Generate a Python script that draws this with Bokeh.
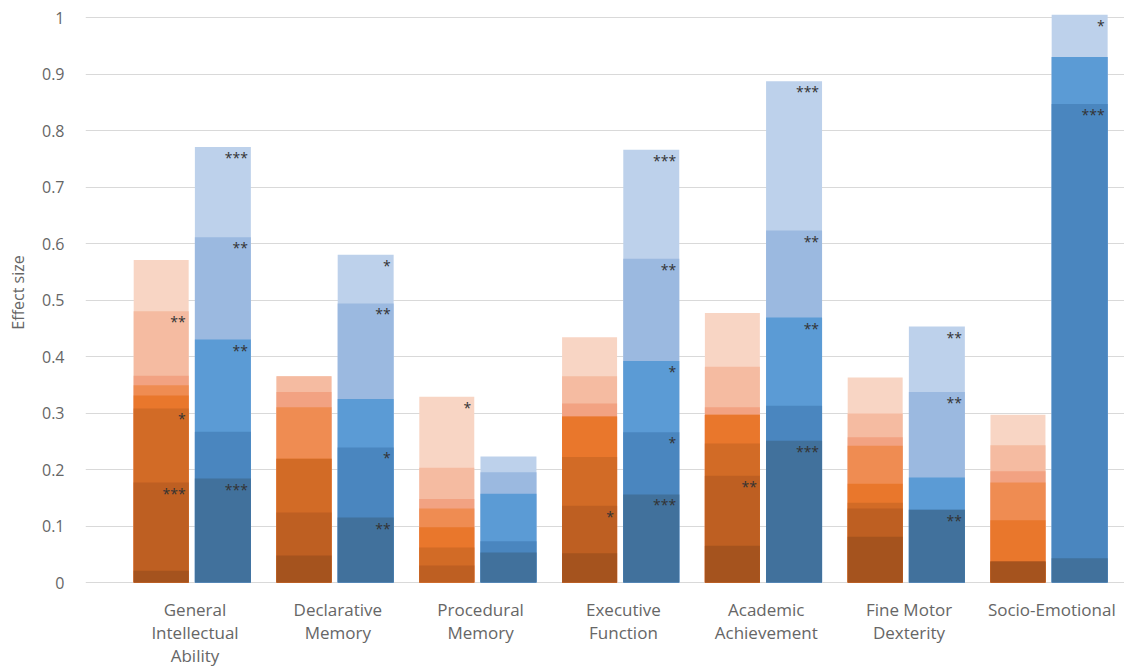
from bokeh.plotting import figure
from bokeh.models import FixedTicker, CustomJSTickFormatter, Range1d, ColumnDataSource
from bokeh.core.properties import value
from bokeh.embed import file_html
from bokeh.resources import INLINE

# ---------------- data ----------------
categories = ["General\nIntellectual\nAbility", "Declarative\nMemory", "Procedural\nMemory",
              "Executive\nFunction", "Academic\nAchievement", "Fine Motor\nDexterity", "Socio-Emotional"]

# orange group: overlapping levels, lightest (tallest) first
orange_l1 = [0.571, 0.365, 0.329, 0.434, 0.477, 0.363, 0.297]
orange_l2 = [0.480, 0.365, 0.203, 0.365, 0.382, 0.299, 0.243]
orange_l3 = [0.366, 0.337, 0.148, 0.317, 0.310, 0.257, 0.197]
orange_l4 = [0.349, 0.310, 0.131, 0.294, 0.297, 0.242, 0.177]
orange_l5 = [0.331, 0.219, 0.098, 0.294, 0.297, 0.175, 0.110]
orange_l6 = [0.308, 0.219, 0.062, 0.222, 0.246, 0.141, 0.037]
orange_l7 = [0.177, 0.124, 0.030, 0.136, 0.189, 0.131, 0.037]
orange_l8 = [0.021, 0.048, 0.000, 0.052, 0.065, 0.081, 0.037]

orange_s1 = ["", "", "*", "", "", "", ""]
orange_s2 = ["**", "", "", "", "", "", ""]
orange_s3 = ["", "", "", "", "", "", ""]
orange_s4 = ["", "", "", "", "", "", ""]
orange_s5 = ["", "", "", "", "", "", ""]
orange_s6 = ["*", "", "", "", "", "", ""]
orange_s7 = ["***", "", "", "*", "**", "", ""]
orange_s8 = ["", "", "", "", "", "", ""]

# blue group
blue_l1 = [0.771, 0.580, 0.223, 0.766, 0.887, 0.453, 1.005]
blue_l2 = [0.611, 0.494, 0.195, 0.573, 0.623, 0.337, 0.930]
blue_l3 = [0.430, 0.325, 0.157, 0.392, 0.469, 0.186, 0.930]
blue_l4 = [0.267, 0.239, 0.073, 0.266, 0.313, 0.129, 0.847]
blue_l5 = [0.184, 0.115, 0.053, 0.156, 0.251, 0.129, 0.043]

blue_s1 = ["***", "*", "", "***", "***", "**", "*"]
blue_s2 = ["**", "**", "", "**", "**", "**", ""]
blue_s3 = ["**", "", "", "*", "**", "", ""]
blue_s4 = ["", "*", "", "*", "", "", "***"]
blue_s5 = ["***", "**", "", "***", "***", "**", ""]

y_ticks = [0, 0.1, 0.2, 0.3, 0.4, 0.5, 0.6, 0.7, 0.8, 0.9, 1.0]

# ---------------- styling ----------------
orange_colors = ["#F8D5C4", "#F5BBA1", "#F2A282", "#EF8C52", "#E9772C", "#D26B26", "#BE5F22", "#A5531E"]
blue_colors = ["#BDD1EB", "#9BB9E0", "#5B9BD5", "#4A86BF", "#41719C"]
FONT = "Open Sans"
TXT = "#666666"

orange_levels = [orange_l1, orange_l2, orange_l3, orange_l4, orange_l5, orange_l6, orange_l7, orange_l8]
orange_stars = [orange_s1, orange_s2, orange_s3, orange_s4, orange_s5, orange_s6, orange_s7, orange_s8]
blue_levels = [blue_l1, blue_l2, blue_l3, blue_l4, blue_l5]
blue_stars = [blue_s1, blue_s2, blue_s3, blue_s4, blue_s5]

idx = list(range(len(categories)))
ORANGE_OFF, ORANGE_W = -0.237, 0.385
BLUE_OFF, BLUE_W = 0.195, 0.392

p = figure(width=1124, height=671, output_backend="svg", toolbar_location=None,
           x_range=Range1d(-0.767, 6.509), y_range=Range1d(-0.0035, 1.0301),
           min_border_left=85, min_border_right=0, min_border_top=0, min_border_bottom=87)
p.background_fill_color = "white"
p.border_fill_color = "white"
p.outline_line_color = None


def draw_group(levels, stars, colors, off, w):
    xs = [i + off for i in idx]
    for lev, st, col in zip(levels, stars, colors):
        src = ColumnDataSource(dict(x=xs, top=lev))
        p.vbar(x="x", top="top", width=w, source=src, fill_color=col, line_color=None)
    for lev, st in zip(levels, stars):
        tx, ty, tt = [], [], []
        for i in idx:
            if st[i]:
                tx.append(i + off + w / 2)
                ty.append(lev[i])
                tt.append(st[i])
        if tt:
            p.text(x=tx, y=ty, text=tt, text_align="right", text_baseline="top",
                   x_offset=-3, y_offset=1, text_font=value(FONT), text_font_size="14px",
                   text_color="#333333")


draw_group(orange_levels, orange_stars, orange_colors, ORANGE_OFF, ORANGE_W)
draw_group(blue_levels, blue_stars, blue_colors, BLUE_OFF, BLUE_W)

# axes
p.xgrid.visible = False
p.ygrid.grid_line_color = "#D9D9D9"
p.ygrid.grid_line_width = 1

p.yaxis.ticker = FixedTicker(ticks=y_ticks)
p.yaxis.formatter = CustomJSTickFormatter(code="return tick.toFixed(1).replace(/\\.0$/, '');")
p.yaxis.axis_line_color = None
p.yaxis.major_tick_line_color = None
p.yaxis.minor_tick_line_color = None
p.yaxis.major_label_standoff = 15
p.yaxis.major_label_text_font = FONT
p.yaxis.major_label_text_font_size = "16px"
p.yaxis.major_label_text_color = TXT
p.yaxis.axis_label = "Effect size"
p.yaxis.axis_label_text_font = FONT
p.yaxis.axis_label_text_font_size = "16px"
p.yaxis.axis_label_text_font_style = "normal"
p.yaxis.axis_label_text_color = TXT
p.yaxis.axis_label_standoff = 10

p.xaxis.ticker = FixedTicker(ticks=idx)
p.xaxis.major_label_overrides = {i: c for i, c in zip(idx, categories)}
p.xaxis.axis_line_color = None
p.xaxis.major_tick_line_color = None
p.xaxis.minor_tick_line_color = None
p.xaxis.major_label_standoff = 7
p.xaxis.major_label_text_font = FONT
p.xaxis.major_label_text_font_size = "17px"
p.xaxis.major_label_text_line_height = 1.0
p.xaxis.major_label_text_color = TXT

open("out.html", "w").write(file_html(p, INLINE))
